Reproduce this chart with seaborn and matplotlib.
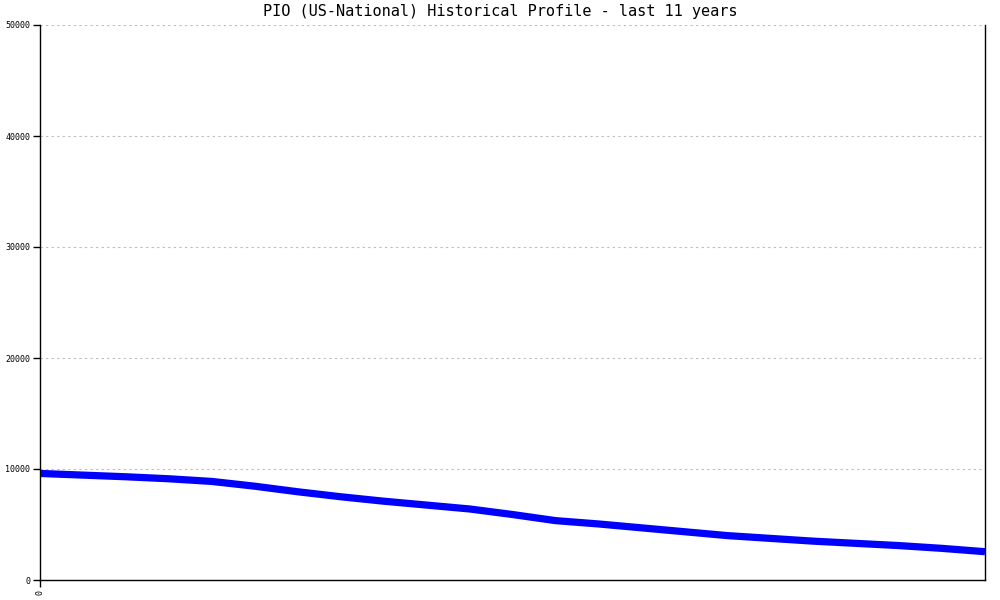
import seaborn as sns
import matplotlib.pyplot as plt
import pandas as pd

# values, equally spaced over the x range
period_index = list(range(23))
pio_values = [9600, 9450, 9300, 9120, 8880, 8450, 7950, 7500, 7100, 6750,
              6400, 5900, 5350, 5050, 4700, 4350, 4000, 3750, 3500, 3300,
              3100, 2850, 2550]
y_ticks = [0, 10000, 20000, 30000, 40000, 50000]
x_tick_labels = ["0"]

df = pd.DataFrame({"idx": period_index, "value": pio_values})

sns.set_style("white")
plt.rcParams["font.family"] = ["DejaVu Sans Mono"]

fig = plt.figure(figsize=(10, 6), dpi=100)
ax = fig.add_axes([0.04, 20 / 600, 0.945, 555 / 600])

sns.lineplot(data=df, x="idx", y="value", ax=ax, color="#0000ff",
             linewidth=5.2, solid_capstyle="butt")

ax.set_xlim(period_index[0], period_index[-1])
ax.set_ylim(0, 50000)
ax.set_yticks(y_ticks)
ax.set_yticklabels([str(v) for v in y_ticks], fontsize=6, color="black")
ax.set_xticks([period_index[0]])
ax.set_xticklabels(x_tick_labels, fontsize=6, rotation=90, color="black")
ax.tick_params(axis="both", direction="out", length=5, width=1, colors="black",
               pad=2, left=True, bottom=True)
ax.set_xlabel("")
ax.set_ylabel("")

for v in y_ticks[1:]:
    ax.axhline(v, color="#bbbbbb", linestyle=(0, (2, 3)), linewidth=0.8, zorder=0)

for side in ["left", "bottom", "right"]:
    ax.spines[side].set_visible(True)
    ax.spines[side].set_color("black")
    ax.spines[side].set_linewidth(1)
ax.spines["top"].set_visible(False)

fig.suptitle("PIO (US-National) Historical Profile - last 11 years",
             x=0.5, y=1 - 4 / 600, va="top", fontsize=11, color="black")

fig.savefig("out.png", dpi=100)
